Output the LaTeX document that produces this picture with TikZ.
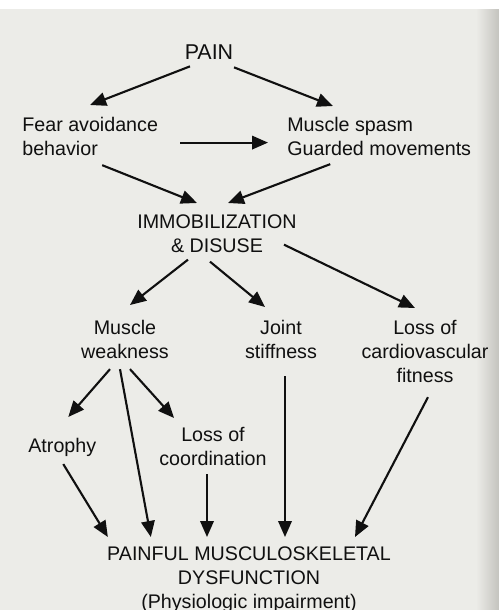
\documentclass[tikz,border=0pt]{standalone}
\usepackage{fontspec}
\setmainfont{Liberation Sans}
\usetikzlibrary{arrows.meta,calc}
\definecolor{paper}{RGB}{236,236,232}
\definecolor{edge}{RGB}{196,195,190}
\definecolor{ink}{RGB}{16,16,16}

\begin{document}
\begin{tikzpicture}[x=0.02cm,y=-0.02cm,
    lbl/.style={inner sep=0pt,text=ink,font=\fontsize{11.2pt}{13.66pt}\selectfont},
    big/.style={lbl,font=\fontsize{12.2pt}{14pt}\selectfont},
    arr/.style={draw=ink,line width=1.2pt,-{Triangle[length=0.32cm,width=0.27cm]}}]
    % Page
    \fill[paper] (0,0) rectangle (499,610);
    \fill[white] (0,0) rectangle (499,9);
    \shade[left color=paper,right color=edge] (476,9) rectangle (499,610);
    \useasboundingbox (0,0) rectangle (499,610);

    % Causes
    \node[big,anchor=base] (pain) at (209,59) {PAIN};
    \node[lbl,align=left,anchor=north west] (fear) at (22,117) {Fear avoidance\\behavior};
    \node[lbl,align=left,anchor=north west] (spasm) at (287,117) {Muscle spasm\\Guarded movements};
    \node[lbl,align=center,anchor=north] (immob) at (217,214) {IMMOBILIZATION\\\& DISUSE};

    % Effects
    \node[lbl,align=center,anchor=north] (weak) at (125,320) {Muscle\\weakness};
    \node[lbl,align=center,anchor=north] (joint) at (281,320) {Joint\\stiffness};
    \node[lbl,align=center,anchor=north] (cardio) at (425,320) {Loss of\\cardiovascular\\fitness};
    \node[lbl,anchor=north west] (atro) at (28,438) {Atrophy};
    \node[lbl,align=center,anchor=north] (coord) at (213,427) {Loss of\\coordination};

    % Outcome
    \node[lbl,align=center,anchor=north] (dysf) at (249,546)
        {PAINFUL MUSCULOSKELETAL\\DYSFUNCTION\\(Physiologic impairment)};

    % Arrows
    \draw[arr] ($(pain.south)+(-19,7)$) -- ($(fear.north)+(0,-12)$);
    \draw[arr] ($(pain.south)+(25,8)$) -- ($(spasm.north west)+(46,-11)$);
    \draw[arr] ($(fear.east)+(22,6)$) -- ($(spasm.west)+(-19,6)$);
    \draw[arr] ($(fear.south)+(12,9)$) -- ($(immob.north)+(-20,-11)$);
    \draw[arr] ($(spasm.south)+(-49,8)$) -- ($(immob.north)+(11,-11)$);
    \draw[arr] ($(immob.south)+(-29,7)$) -- ($(weak.north)+(5,-15)$);
    \draw[arr] ($(immob.south)+(-7,9)$) -- ($(joint.north)+(-16,-13)$);
    \draw[arr] ($(immob.south east)+(-13,-8)$) -- ($(cardio.north)+(-10,-12)$);
    \draw[arr] ($(weak.south)+(-15,10)$) -- ($(atro.north)+(6,-21)$);
    \draw[arr] ($(weak.south)+(-5,10)$) -- ($(dysf.north west)+(44,-9)$);
    \draw[arr] ($(weak.south)+(5,10)$) -- ($(coord.north west)+(15,-9)$);
    \draw[arr] ($(atro.south)+(1,7)$) -- ($(dysf.north west)+(1,-9)$);
    \draw[arr] ($(coord.south)+(-6,8)$) -- ($(dysf.north)+(-42,-9)$);
    \draw[arr] ($(joint.south)+(4,17)$) -- ($(dysf.north)+(36,-9)$);
    \draw[arr] ($(cardio.south)+(3,14)$) -- ($(dysf.north)+(106,-9)$);
\end{tikzpicture}
\end{document}
